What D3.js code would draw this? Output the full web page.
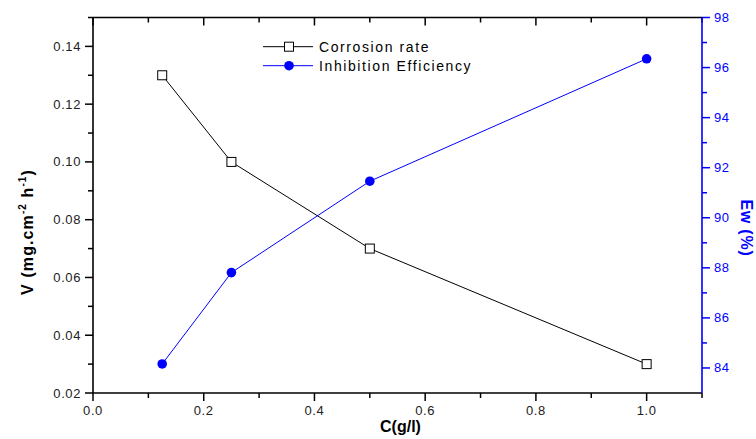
<!DOCTYPE html>
<html><head><meta charset="utf-8">
<script src="https://cdn.jsdelivr.net/npm/d3@7"></script>
<style>body{margin:0;background:#fff}svg{display:block;font-family:"Liberation Sans",Arial,sans-serif}</style>
</head><body><svg id="c" width="756" height="439"></svg>
<script>
const conc = [0.125, 0.25, 0.5, 1.0];
const corrosionRate = [0.13, 0.10, 0.07, 0.03];
const efficiency = [84.16, 87.81, 91.46, 96.35];
const xTicks = [0.0, 0.2, 0.4, 0.6, 0.8, 1.0];
const xMinor = [0.1, 0.3, 0.5, 0.7, 0.9, 1.1];
const yLeftTicks = [0.02, 0.04, 0.06, 0.08, 0.10, 0.12, 0.14];
const yLeftMinor = [0.03, 0.05, 0.07, 0.09, 0.11, 0.13, 0.15];
const yRightTicks = [84, 86, 88, 90, 92, 94, 96, 98];
const yRightMinor = [85, 87, 89, 91, 93, 95, 97];
const seriesNames = ["Corrosion rate", "Inhibition Efficiency"];

const svg = d3.select("#c");
const L = 93, R = 702, T = 17.5, B = 393;
const blue = "#0000ff";
const x = d3.scaleLinear().domain([0, 1.1]).range([L, R]);
const yL = d3.scaleLinear().domain([0.02, 0.15]).range([B, T]);
const yR = d3.scaleLinear().domain([83, 98]).range([B, T]);

const ticks = svg.append("g").attr("stroke-width", 1.5);
function tickLines(vals, scale, orient, pos, len, color) {
  const sel = ticks.selectAll(null).data(vals).enter().append("line").attr("stroke", color);
  if (orient === "h") sel.attr("x1", d => scale(d)).attr("x2", d => scale(d)).attr("y1", pos).attr("y2", pos + len);
  else sel.attr("y1", d => scale(d)).attr("y2", d => scale(d)).attr("x1", pos).attr("x2", pos + len);
}
// bottom (outward), top (inward)
tickLines(xTicks, x, "h", B, 8, "#000");
tickLines(xMinor, x, "h", B, 5, "#000");
tickLines(xTicks, x, "h", T, 8, "#000");
tickLines(xMinor, x, "h", T, 5, "#000");
// left (outward), right (outward, blue)
tickLines(yLeftTicks, yL, "v", L, -8, "#000");
tickLines(yLeftMinor, yL, "v", L, -5, "#000");
tickLines(yRightTicks, yR, "v", R, 8, blue);
tickLines(yRightMinor, yR, "v", R, 5, blue);

// frame lines
svg.append("line").attr("x1", L).attr("x2", R).attr("y1", B).attr("y2", B).attr("stroke", "#000").attr("stroke-width", 1.6);
svg.append("line").attr("x1", L).attr("x2", R).attr("y1", T).attr("y2", T).attr("stroke", "#000").attr("stroke-width", 1.6);
svg.append("line").attr("x1", L).attr("x2", L).attr("y1", T).attr("y2", B).attr("stroke", "#000").attr("stroke-width", 1.6);
svg.append("line").attr("x1", R).attr("x2", R).attr("y1", T).attr("y2", B).attr("stroke", blue).attr("stroke-width", 1.6);

// tick labels
const lab = svg.append("g").style("font-size", "13px").style("letter-spacing", "0.6px");
lab.selectAll(null).data(xTicks).enter().append("text")
  .attr("x", d => x(d)).attr("y", B + 22).attr("text-anchor", "middle").attr("fill", "#222")
  .text(d3.format(".1f"));
lab.selectAll(null).data(yLeftTicks).enter().append("text")
  .attr("x", L - 12).attr("y", d => yL(d) + 4.5).attr("text-anchor", "end").attr("fill", "#222")
  .text(d3.format(".2f"));
lab.selectAll(null).data(yRightTicks).enter().append("text")
  .attr("x", R + 12).attr("y", d => yR(d) + 4.5).attr("text-anchor", "start").attr("fill", blue)
  .text(d3.format("d"));

// series
const dataC = conc.map((c, i) => [c, corrosionRate[i]]);
const dataE = conc.map((c, i) => [c, efficiency[i]]);
svg.append("path").datum(dataC).attr("fill", "none").attr("stroke", "#000").attr("stroke-width", 1)
  .attr("d", d3.line().x(d => x(d[0])).y(d => yL(d[1])));
svg.append("path").datum(dataE).attr("fill", "none").attr("stroke", blue).attr("stroke-width", 1)
  .attr("d", d3.line().x(d => x(d[0])).y(d => yR(d[1])));
svg.selectAll("rect.sq").data(dataC).enter().append("rect")
  .attr("x", d => x(d[0]) - 4.5).attr("y", d => yL(d[1]) - 4.5).attr("width", 9).attr("height", 9)
  .attr("fill", "#fff").attr("stroke", "#000").attr("stroke-width", 1);
svg.selectAll("circle.dt").data(dataE).enter().append("circle")
  .attr("cx", d => x(d[0])).attr("cy", d => yR(d[1])).attr("r", 4.8).attr("fill", blue);

// legend
const lg = svg.append("g");
[[46.7, "#000", "sq"], [65.7, blue, "dt"]].forEach(([ly, col, m], i) => {
  lg.append("line").attr("x1", 263).attr("x2", 313).attr("y1", ly).attr("y2", ly).attr("stroke", col).attr("stroke-width", 1);
  if (m === "sq") lg.append("rect").attr("x", 284.5).attr("y", ly - 4.5).attr("width", 9).attr("height", 9).attr("fill", "#fff").attr("stroke", "#000");
  else lg.append("circle").attr("cx", 289).attr("cy", ly).attr("r", 4.8).attr("fill", blue);
  lg.append("text").attr("x", 319).attr("y", ly + 5).text(seriesNames[i])
    .style("font-size", "14px").style("letter-spacing", "1.6px").attr("fill", "#000");
});

// axis titles
svg.append("text").attr("x", (L + R) / 2 + 3).attr("y", 432).attr("text-anchor", "middle")
  .style("font-size", "16px").style("font-weight", "bold").attr("fill", "#000").text("C(g/l)");
const lt = svg.append("text").attr("transform", `translate(33,232) rotate(-90)`)
  .attr("text-anchor", "middle").style("font-size", "16px").style("font-weight", "bold")
  .style("letter-spacing", "1.1px").attr("fill", "#000");
lt.append("tspan").text("V (mg.cm");
lt.append("tspan").attr("dy", -7).style("font-size", "10px").text("-2");
lt.append("tspan").attr("dy", 7).text(" h");
lt.append("tspan").attr("dy", -7).style("font-size", "10px").text("-1");
lt.append("tspan").attr("dy", 7).text(")");
svg.append("text").attr("transform", `translate(741,228) rotate(90)`)
  .attr("text-anchor", "middle").style("font-size", "16px").style("font-weight", "bold")
  .style("letter-spacing", "0.8px").attr("fill", blue).text("Ew (%)");
</script></body></html>
